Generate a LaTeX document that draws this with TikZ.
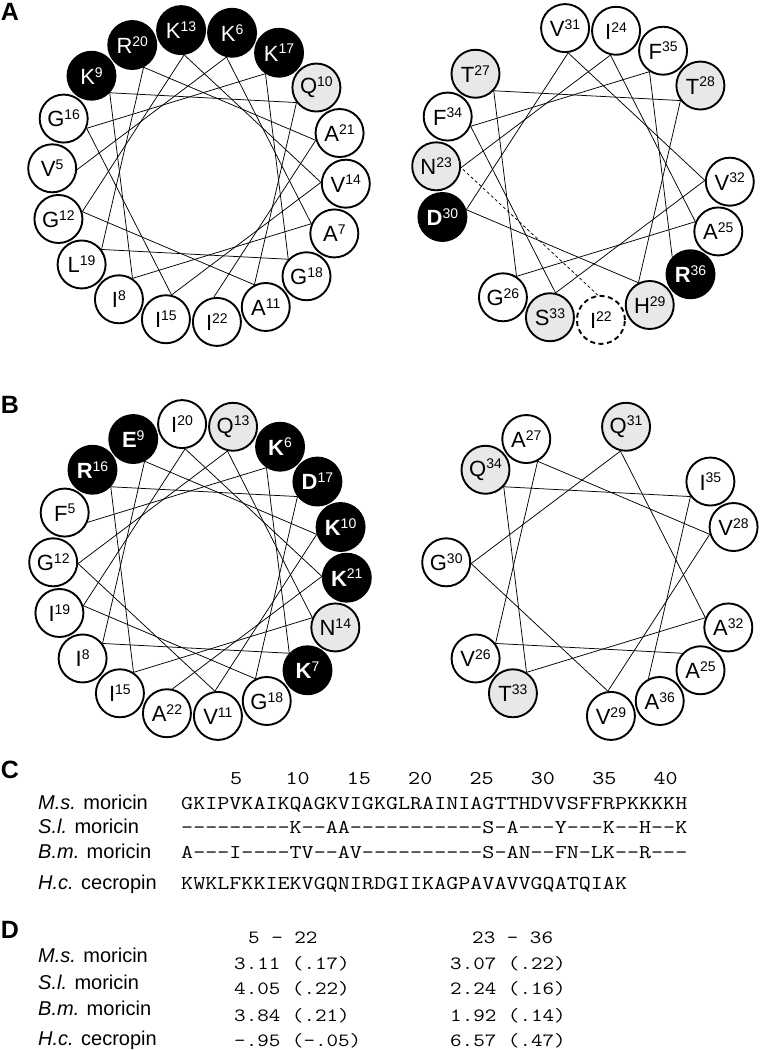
\documentclass[tikz,border=0pt]{standalone}
\usepackage{fontspec}
\setmainfont{Liberation Sans}
\setmonofont[FakeStretch=1.2]{Latin Modern Mono}
\definecolor{lg}{RGB}{232,232,232}
\newcommand\rlab[2]{#1\raisebox{0.33em}{\normalfont\fontsize{14}{14}\selectfont #2}}
\tikzset{
  res/.style={circle, draw=black, line width=1.9pt, minimum size=48pt, inner sep=0pt, font=\fontsize{22}{26}\selectfont},
  wres/.style={res, fill=white},
  gres/.style={res, fill=lg},
  kres/.style={res, fill=black, text=white},
  kbres/.style={kres, font=\fontsize{22}{26}\selectfont\bfseries},
  dres/.style={res, fill=white, dash pattern=on 5pt off 3.5pt},
  conn/.style={line width=0.75pt},
  dconn/.style={line width=0.75pt, dash pattern=on 3pt off 2.5pt},
  plab/.style={font=\fontsize{25}{25}\selectfont\bfseries, inner sep=0pt},
  nm/.style={font=\fontsize{20}{24}\selectfont, anchor=base west, inner sep=0pt},
  sq/.style={font=\ttfamily\fontsize{19.5}{24}\selectfont, anchor=base west, inner sep=0pt},
  sqn/.style={font=\ttfamily\fontsize{19.5}{24}\selectfont, anchor=base, inner sep=0pt},
  dv/.style={font=\ttfamily\fontsize{18.7}{24}\selectfont, anchor=base west, inner sep=0pt},
}
\begin{document}
\begin{tikzpicture}[x=1pt,y=1pt]
\useasboundingbox (0,0) rectangle (761,-1050);
% panel labels
\node[plab] (lA) at (10,-12) {A};
\node[plab] (lB) at (10,-405) {B};
\node[plab] (lC) at (10,-770) {C};
\node[plab] (lD) at (10,-930) {D};

% ---------- Wheel A left (residues 5-22)
\begin{scope}[shift={(199,-176)}]
\foreach \n/\l/\s in {5/V/wres,6/K/kres,7/A/wres,8/I/wres,9/K/kres,10/Q/gres,11/A/wres,12/G/wres,13/K/kres,14/V/wres,15/I/wres,16/G/wres,17/K/kres,18/G/wres,19/L/wres,20/R/kres,21/A/wres,22/I/wres}{
  \pgfmathtruncatemacro\ang{mod(317-100*\n+3600,360)}
  \edef\tmp{\noexpand\node[\s] (al\n) at (\ang:147) {\noexpand\rlab{\l}{\n}};}\tmp
}
\foreach \n in {5,...,21}{
  \pgfmathtruncatemacro\m{\n+1}
  \pgfmathtruncatemacro\aa{mod(317-100*\n+3600+180,360)}
  \pgfmathtruncatemacro\bb{mod(317-100*\m+3600+180,360)}
  \draw[conn] (al\n.\aa) -- (al\m.\bb);
}
\end{scope}

% ---------- Wheel A right (residues 22-36)
\begin{scope}[shift={(583,-174)}]
\foreach \n/\l/\s in {22/I/dres,23/N/gres,24/I/wres,25/A/wres,26/G/wres,27/T/gres,28/T/gres,29/H/gres,30/D/kbres,31/V/wres,32/V/wres,33/S/gres,34/F/wres,35/F/wres,36/R/kbres}{
  \pgfmathtruncatemacro\ang{mod(317-100*\n+3600,360)}
  \edef\tmp{\noexpand\node[\s] (ar\n) at (\ang:147) {\noexpand\rlab{\l}{\n}};}\tmp
}
\pgfmathtruncatemacro\aa{mod(317-100*22+3600+180,360)}
\pgfmathtruncatemacro\bb{mod(317-100*23+3600+180,360)}
\draw[dconn] (ar22.\aa) -- (ar23.\bb);
\foreach \n in {23,...,35}{
  \pgfmathtruncatemacro\m{\n+1}
  \pgfmathtruncatemacro\aa{mod(317-100*\n+3600+180,360)}
  \pgfmathtruncatemacro\bb{mod(317-100*\m+3600+180,360)}
  \draw[conn] (ar\n.\aa) -- (ar\m.\bb);
}
\end{scope}

% ---------- Wheel B left (residues 5-22)
\begin{scope}[shift={(200,-570)}]
\foreach \n/\l/\s in {5/F/wres,6/K/kbres,7/K/kbres,8/I/wres,9/E/kbres,10/K/kbres,11/V/wres,12/G/wres,13/Q/gres,14/N/gres,15/I/wres,16/R/kbres,17/D/kbres,18/G/wres,19/I/wres,20/I/wres,21/K/kbres,22/A/wres}{
  \pgfmathtruncatemacro\ang{mod(297-100*\n+3600,360)}
  \edef\tmp{\noexpand\node[\s] (bl\n) at (\ang:147) {\noexpand\rlab{\l}{\n}};}\tmp
}
\foreach \n in {5,...,21}{
  \pgfmathtruncatemacro\m{\n+1}
  \pgfmathtruncatemacro\aa{mod(297-100*\n+3600+180,360)}
  \pgfmathtruncatemacro\bb{mod(297-100*\m+3600+180,360)}
  \draw[conn] (bl\n.\aa) -- (bl\m.\bb);
}
\end{scope}

% ---------- Wheel B right (residues 25-36)
\begin{scope}[shift={(593,-570)}]
\foreach \n/\l/\s in {25/A/wres,26/V/wres,27/A/wres,28/V/wres,29/V/wres,30/G/wres,31/Q/gres,32/A/wres,33/T/gres,34/Q/gres,35/I/wres,36/A/wres}{
  \pgfmathtruncatemacro\ang{mod(297-100*\n+3600,360)}
  \edef\tmp{\noexpand\node[\s] (br\n) at (\ang:147) {\noexpand\rlab{\l}{\n}};}\tmp
}
\foreach \n in {25,...,35}{
  \pgfmathtruncatemacro\m{\n+1}
  \pgfmathtruncatemacro\aa{mod(297-100*\n+3600+180,360)}
  \pgfmathtruncatemacro\bb{mod(297-100*\m+3600+180,360)}
  \draw[conn] (br\n.\aa) -- (br\m.\bb);
}
\end{scope}

% ---------- Panel C
\foreach \k in {5,10,15,20,25,30,35,40}{
  \node[sqn] (cn\k) at ({181+(\k-0.5)*12.27},-784) {\k};
}
\node[nm] (c1n) at (38,-809) {\textit{M.s.} moricin};
\node[sq] (c1s) at (181,-809) {GKIPVKAIKQAGKVIGKGLRAINIAGTTHDVVSFFRPKKKKH};
\node[nm] (c2n) at (38,-833) {\textit{S.l.} moricin};
\node[sq] (c2s) at (181,-833) {---------K--AA-----------S-A---Y---K--H--K};
\node[nm] (c3n) at (38,-858) {\textit{B.m.} moricin};
\node[sq] (c3s) at (181,-858) {A---I----TV—-AV----------S-AN--FN-LK--R---};
\node[nm] (c4n) at (38,-889) {\textit{H.c.} cecropin};
\node[sq] (c4s) at (181,-889) {KWKLFKKIEKVGQNIRDGIIKAGPAVAVVGQATQIAK};

% ---------- Panel D
\node[dv] (dh1) at (248,-943) {5 - 22};
\node[dv] (dh2) at (472,-943) {23 - 36};
\node[nm] (d1n) at (38,-962) {\textit{M.s.} moricin};
\node[dv] (d1a) at (234,-969) {3.11 (.17)};
\node[dv] (d1b) at (450,-969) {3.07 (.22)};
\node[nm] (d2n) at (38,-989) {\textit{S.l.} moricin};
\node[dv] (d2a) at (234,-994) {4.05 (.22)};
\node[dv] (d2b) at (450,-994) {2.24 (.16)};
\node[nm] (d3n) at (38,-1015) {\textit{B.m.} moricin};
\node[dv] (d3a) at (234,-1021) {3.84 (.21)};
\node[dv] (d3b) at (450,-1021) {1.92 (.14)};
\node[nm] (d4n) at (38,-1045) {\textit{H.c.} cecropin};
\node[dv] (d4a) at (234,-1046) {-.95 (-.05)};
\node[dv] (d4b) at (450,-1046) {6.57 (.47)};
\end{tikzpicture}
\end{document}
